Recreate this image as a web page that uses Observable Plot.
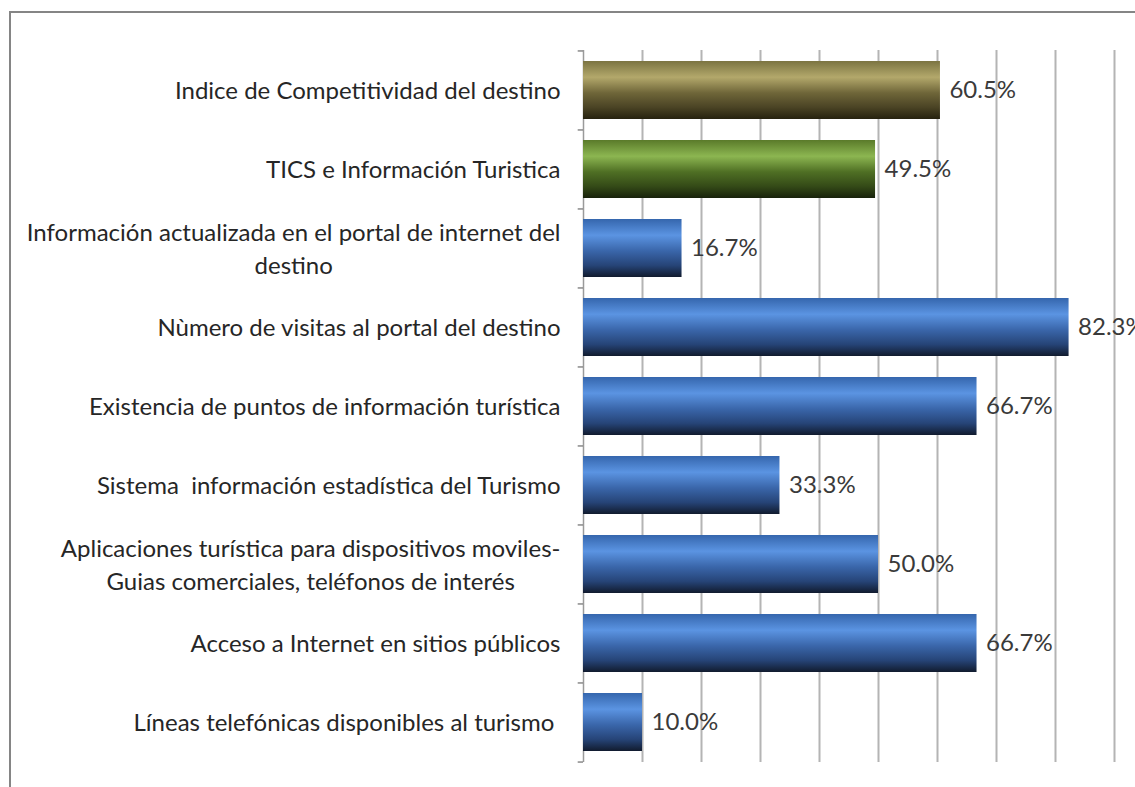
<!DOCTYPE html>
<html><head><meta charset="utf-8">
<script src="https://cdn.jsdelivr.net/npm/d3@7"></script>
<script src="https://cdn.jsdelivr.net/npm/@observablehq/plot@0.6"></script>
<style>
html,body{margin:0;padding:0;background:#fff;overflow:hidden;}
#wrap{position:relative;width:1135px;height:787px;overflow:hidden;}
#frame{position:absolute;left:9px;top:11px;width:1300px;height:900px;border:2px solid #858585;box-sizing:border-box;}
#chart{position:absolute;left:0;top:0;}
</style></head><body>
<div id="wrap"><div id="frame"></div><div id="chart"></div></div>
<script>
const categories = [
  "Indice de Competitividad del destino",
  "TICS e Información Turistica",
  "Información actualizada en el portal de internet del\ndestino",
  "Nùmero de visitas al portal del destino",
  "Existencia de puntos de información turística",
  "Sistema  información estadística del Turismo",
  "Aplicaciones turística para dispositivos moviles-\nGuias comerciales, teléfonos de interés",
  "Acceso a Internet en sitios públicos",
  "Líneas telefónicas disponibles al turismo "
];
const values = [60.5, 49.5, 16.7, 82.3, 66.7, 33.3, 50.0, 66.7, 10.0];
const groups = ["index", "pillar", "indicator", "indicator", "indicator", "indicator", "indicator", "indicator", "indicator"];
const gridTicks = [10, 20, 30, 40, 50, 60, 70, 80, 90, 100];

const rows = categories.map((c, i) => ({cat: c, value: values[i], group: groups[i]}));
const step = (762 - 50) / categories.length;

const plot = Plot.plot({
  width: 1135,
  height: 787,
  marginTop: 50,
  marginBottom: 25,
  marginLeft: 583,
  marginRight: 0,
  style: {fontFamily: "Lato, 'Liberation Sans', sans-serif", background: "transparent", overflow: "hidden"},
  x: {domain: [0, 100], range: [583, 1173], axis: null},
  y: {domain: categories, range: [50, 762], paddingInner: 0.26, paddingOuter: 0.13, axis: null},
  color: {domain: ["index", "pillar", "indicator"], range: ["url(#gOlive)", "url(#gGreen)", "url(#gBlue)"]},
  marks: [
    Plot.ruleX(gridTicks, {x: d => d, stroke: "#b4b4b4", strokeWidth: 2}),
    Plot.ruleX([0], {stroke: "#9a9a9a", strokeWidth: 1.5}),
    Plot.ruleY(categories, {y: d => d, dy: -step / 2, x1: -0.9, x2: 0, stroke: "#8a8a8a", strokeWidth: 1.5}),
    Plot.ruleY([categories[categories.length - 1]], {y: d => d, dy: step / 2, x1: -0.9, x2: 0, stroke: "#8a8a8a", strokeWidth: 1.5}),
    Plot.barX(rows, {x1: 0, x2: "value", y: "cat", fill: "group"}),
    Plot.text(rows, {x: "value", y: "cat", text: d => d.value.toFixed(1) + "%", textAnchor: "start", dx: 9, fontSize: 24, fill: "#3a3a3a"}),
    Plot.text(rows, {x: 0, y: "cat", text: "cat", textAnchor: "end", dx: -23, dy: -2, fontSize: 24, lineHeight: 1.38, fill: "#262626"})
  ]
});

document.getElementById("chart").appendChild(plot);

const defs = d3.select(plot).insert("defs", ":first-child");
function grad(id, stops) {
  const g = defs.append("linearGradient").attr("id", id).attr("x1", 0).attr("y1", 0).attr("x2", 0).attr("y2", 1);
  stops.forEach(([o, c]) => g.append("stop").attr("offset", o).attr("stop-color", c));
}
grad("gBlue", [[0, "#3566ad"], [0.28, "#5b94e2"], [0.55, "#3a66aa"], [0.8, "#264477"], [1, "#111b2e"]]);
grad("gOlive", [[0, "#7b7442"], [0.28, "#b3a86b"], [0.55, "#6f6639"], [0.8, "#4a4324"], [1, "#26220f"]]);
grad("gGreen", [[0, "#5a7a2a"], [0.28, "#8cb651"], [0.55, "#4f6f24"], [0.8, "#344a17"], [1, "#18220b"]]);

// category labels: keep spaces as written, and center the lines of two-line labels
const flat = new Set(categories.map(c => c.replace(/\n/g, "")));
Array.from(plot.getElementsByTagName("text")).forEach(function (txt) {
  if (!flat.has(txt.textContent)) return;
  txt.style.whiteSpace = "pre";
  const tspans = Array.from(txt.childNodes).filter(n => n.nodeName && n.nodeName.toLowerCase() === "tspan");
  if (tspans.length > 1) {
    const widths = tspans.map(t => t.getComputedTextLength());
    const W = Math.max(...widths);
    tspans.forEach((t, i) => t.setAttribute("x", -W / 2 + widths[i] / 2));
  }
});
</script>
</body></html>
